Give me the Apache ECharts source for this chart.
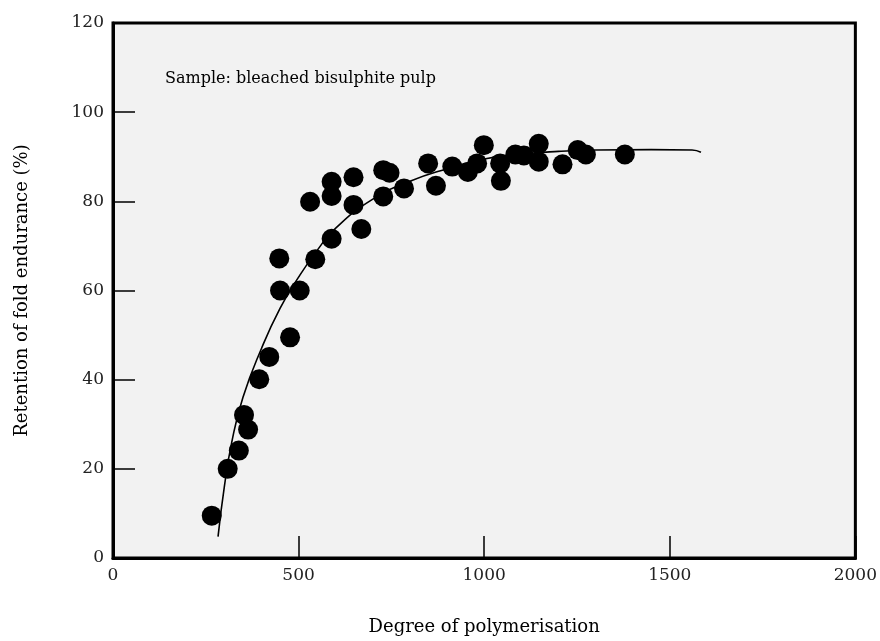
<!DOCTYPE html>
<html>
<head>
<meta charset="utf-8">
<script src="https://cdn.jsdelivr.net/npm/echarts@6/dist/echarts.min.js"></script>
<style>
  html, body {margin: 0; padding: 0; background: #fff;}
  #chart {width: 880px; height: 641px;}
</style>
</head>
<body>
<div id="chart"></div>
<script>
// measured points (degree of polymerisation, retention %)
const dp_values = [266, 309, 339, 353, 364, 394, 421, 477, 450, 503, 448, 545, 589, 669, 531, 589, 589, 648, 648,
  728, 745, 728, 784, 849, 870, 914, 956, 981, 999, 1043, 1045, 1084, 1107, 1147, 1147, 1211, 1252, 1274, 1379];
const retention_values = [9.5, 20, 24.1, 32.1, 28.8, 40.1, 45.1, 49.5, 60, 60, 67.2, 67, 71.6, 73.8, 79.9, 84.4, 81.2, 85.4, 79.2,
  87, 86.4, 81.1, 82.9, 88.5, 83.5, 87.8, 86.6, 88.5, 92.6, 88.5, 84.6, 90.5, 90.3, 92.9, 88.9, 88.3, 91.5, 90.5, 90.5];

// fitted trend line
const curve_dp = [283, 300, 320, 350, 400, 450, 500, 550, 600, 700, 800, 900, 1000, 1100, 1200, 1300, 1450, 1560, 1584];
const curve_retention = [4.8, 16, 26, 36, 47, 56, 63, 69, 74, 80.5, 84.5, 87.3, 89.5, 90.6, 91.2, 91.5, 91.6, 91.5, 91];

const x_ticks = [0, 500, 1000, 1500, 2000];
const y_ticks = [0, 20, 40, 60, 80, 100, 120];

const font = "DejaVu Serif";

function createEChart(element){
  return echarts.init(element, null, {renderer: 'canvas'});
}

const chart = createEChart(document.getElementById('chart'));

const axisCommon = {
  type: 'value',
  axisLine: {show: true, lineStyle: {color: '#000', width: 3}},
  axisTick: {show: true, inside: true, length: 22, lineStyle: {color: '#000', width: 1.5}},
  splitLine: {show: false},
  nameLocation: 'middle',
  nameTextStyle: {fontFamily: font, fontSize: 18, color: '#000'}
};

chart.setOption({
  animation: false,
  backgroundColor: '#fff',
  title: {
    text: 'Sample: bleached bisulphite pulp',
    left: 160, top: 66,
    textStyle: {fontFamily: font, fontSize: 16, fontWeight: 'normal', color: '#000'}
  },
  grid: {
    left: 113, right: 24, top: 23, bottom: 81,
    show: true, backgroundColor: '#f2f2f2', borderColor: '#000', borderWidth: 3
  },
  xAxis: {
    ...axisCommon,
    min: x_ticks[0], max: x_ticks[x_ticks.length - 1], interval: 500,
    name: 'Degree of polymerisation', nameGap: 60,
    axisLabel: {fontFamily: font, fontSize: 17, color: '#222', margin: 9, formatter: (v) => String(v)}
  },
  yAxis: {
    ...axisCommon,
    min: y_ticks[0], max: y_ticks[y_ticks.length - 1], interval: 20,
    name: 'Retention of fold endurance (%)', nameGap: 82,
    axisLabel: {fontFamily: font, fontSize: 17, color: '#222', margin: 9}
  },
  series: [
    {
      type: 'line',
      data: curve_dp.map((x, i) => [x, curve_retention[i]]),
      smooth: 0.5,
      showSymbol: false,
      lineStyle: {color: '#000', width: 1.6}
    },
    {
      type: 'scatter',
      data: dp_values.map((x, i) => [x, retention_values[i]]),
      symbol: 'circle',
      symbolSize: 20,
      itemStyle: {color: '#000', opacity: 1}
    }
  ]
});
</script>
</body>
</html>
